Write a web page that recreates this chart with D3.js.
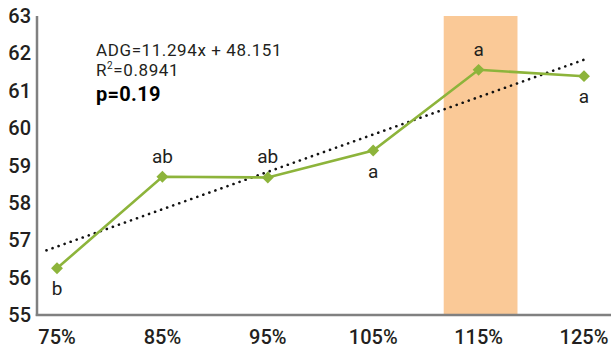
<!DOCTYPE html>
<html>
<head>
<meta charset="utf-8">
<script src="https://cdn.jsdelivr.net/npm/d3@7"></script>
<style>
  html, body { margin: 0; padding: 0; background: #fff; }
  svg { display: block; font-family: Roboto, "DejaVu Sans", sans-serif; }
</style>
</head>
<body>
<svg id="chart" width="611" height="353"></svg>
<script>
// ---- data ----
const categories = ["75%", "85%", "95%", "105%", "115%", "125%"];
const adg = [56.25, 58.70, 58.68, 59.40, 61.56, 61.39];
const letters = ["b", "ab", "ab", "a", "a", "a"];
const letterBelow = [true, false, false, true, false, true];
const yTicks = [55, 56, 57, 58, 59, 60, 61, 62, 63];
const highlighted = "115%";
const equationLines = ["ADG=11.294x + 48.151", "0.8941", "p=0.19"];

// ---- layout ----
const svg = d3.select("#chart");
const axisX = 37, axisY = 315, plotTop = 16;
const x = d3.scalePoint().domain(categories).range([57, 584]);
const y = d3.scaleLinear().domain([55, 63]).range([axisY, plotTop]);
const step = x.step();

const green = "#8db43b";
const textColor = "#231f20";

// highlight band
svg.append("rect")
  .attr("x", x(highlighted) - step * 0.35 + 2)
  .attr("y", y(63))
  .attr("width", step * 0.7)
  .attr("height", y(55) - y(63))
  .attr("fill", "#fac997");

// trend line (least squares on category index)
const n = adg.length;
const xs = d3.range(n);
const mx = d3.mean(xs), my = d3.mean(adg);
const slope = d3.sum(xs, i => (i - mx) * (adg[i] - my)) / d3.sum(xs, i => (i - mx) ** 2);
const icpt = my - slope * mx;
const xi = i => x(categories[0]) + i * step;
const t0 = -0.1, t1 = 5.02;
svg.append("line")
  .attr("x1", xi(t0)).attr("y1", y(icpt + slope * t0))
  .attr("x2", xi(t1)).attr("y2", y(icpt + slope * t1))
  .attr("stroke", "#111")
  .attr("stroke-width", 2.6)
  .attr("stroke-linecap", "round")
  .attr("stroke-dasharray", "0.1 6.3");

// data line
svg.append("path")
  .datum(adg)
  .attr("fill", "none")
  .attr("stroke", green)
  .attr("stroke-width", 2.6)
  .attr("d", d3.line().x((d, i) => x(categories[i])).y(d => y(d)));

// diamond markers
svg.selectAll("path.mk").data(adg).join("path")
  .attr("class", "mk")
  .attr("d", d3.symbol().type(d3.symbolDiamond2).size(90))
  .attr("transform", (d, i) => `translate(${x(categories[i])},${y(d)})`)
  .attr("fill", green);

// significance letters
svg.selectAll("text.lt").data(adg).join("text")
  .attr("class", "lt")
  .attr("x", (d, i) => x(categories[i]))
  .attr("y", (d, i) => y(d) + (letterBelow[i] ? 27 : -14))
  .attr("text-anchor", "middle")
  .attr("font-size", 19)
  .attr("fill", textColor)
  .text((d, i) => letters[i]);

// axes
const axisColor = "#808080";
svg.append("line")
  .attr("x1", axisX).attr("x2", axisX)
  .attr("y1", plotTop).attr("y2", axisY + 1)
  .attr("stroke", axisColor).attr("stroke-width", 2.5);
svg.append("line")
  .attr("x1", axisX - 1.25).attr("x2", 611)
  .attr("y1", axisY).attr("y2", axisY)
  .attr("stroke", axisColor).attr("stroke-width", 2.5);

// y tick labels
svg.selectAll("text.yt").data(yTicks).join("text")
  .attr("class", "yt")
  .attr("x", 31)
  .attr("y", d => y(d) + 7)
  .attr("text-anchor", "end")
  .attr("font-size", 20)
  .attr("font-weight", 500)
  .attr("fill", textColor)
  .text(d => d);

// x tick labels
svg.selectAll("text.xt").data(categories).join("text")
  .attr("class", "xt")
  .attr("x", d => x(d))
  .attr("y", 344)
  .attr("text-anchor", "middle")
  .attr("font-size", 20)
  .attr("font-weight", 500)
  .attr("fill", textColor)
  .text(d => d);

// equation block
svg.append("text")
  .attr("x", 96).attr("y", 56)
  .attr("font-size", 17).attr("letter-spacing", 0.6).attr("fill", textColor)
  .text(equationLines[0]);
const r2 = svg.append("text")
  .attr("x", 96).attr("y", 76)
  .attr("font-size", 17).attr("letter-spacing", 0.6).attr("fill", textColor);
r2.append("tspan").text("R");
r2.append("tspan").attr("dy", -7).attr("font-size", 10).text("2");
r2.append("tspan").attr("dy", 7).text("=" + equationLines[1]);
svg.append("text")
  .attr("x", 96).attr("y", 101)
  .attr("font-size", 20).attr("font-weight", "bold").attr("letter-spacing", 0.3).attr("fill", "#000")
  .text(equationLines[2]);
</script>
</body>
</html>
